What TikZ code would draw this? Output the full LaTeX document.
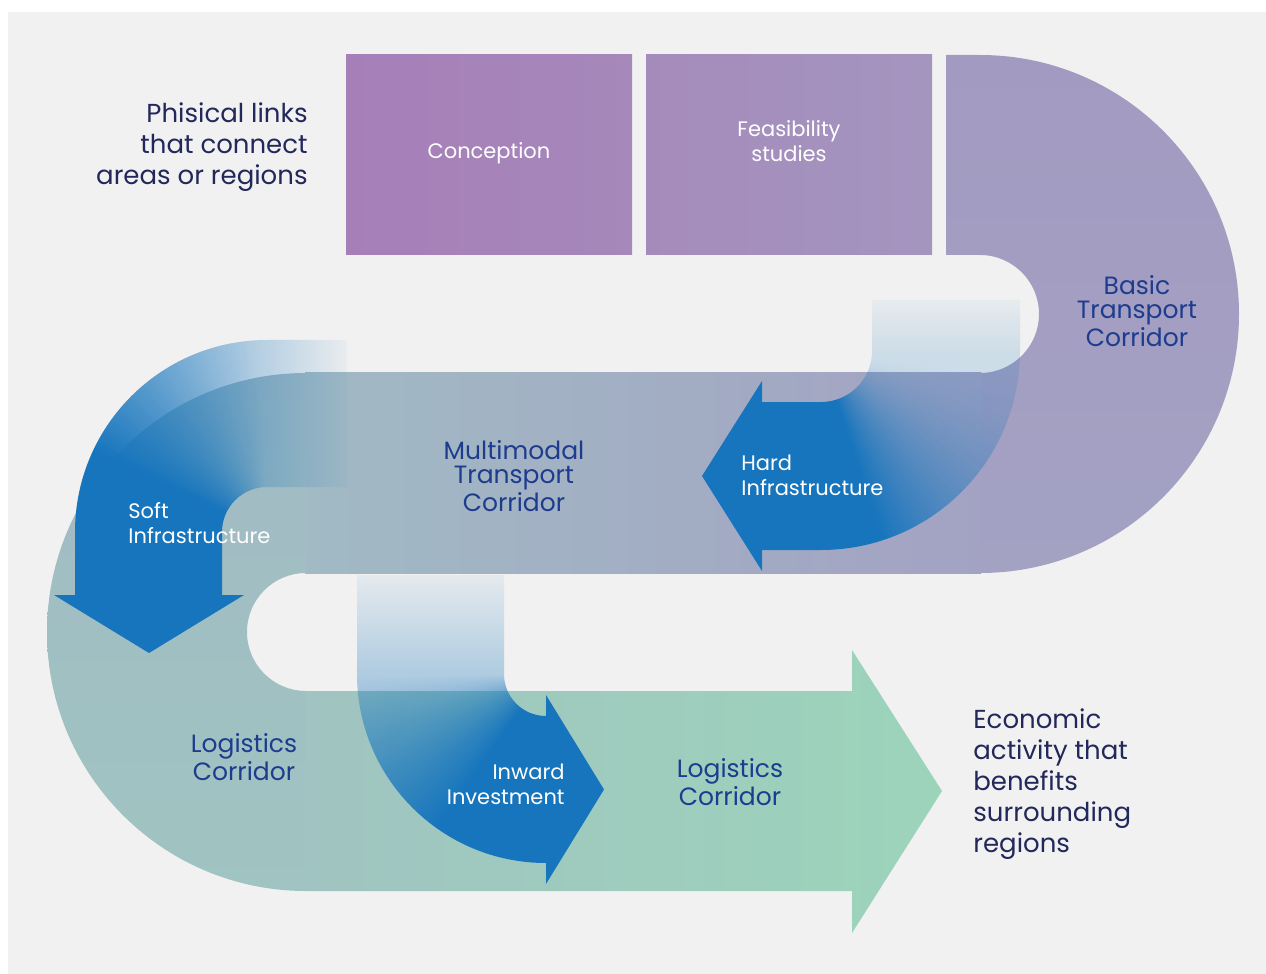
\documentclass[tikz,border=0pt]{standalone}
\usepackage{fontspec}
\setmainfont{Poppins}
\usetikzlibrary{positioning, fadings}

\definecolor{paper}{HTML}{F1F1F1}
\definecolor{flowblue}{HTML}{1675BD}
\definecolor{textnavy}{HTML}{22285A}
\definecolor{labelblue}{HTML}{1D3C8E}
\definecolor{stageA}{HTML}{A67FB9}
\definecolor{stageB}{HTML}{A688BA}
\definecolor{stageC}{HTML}{A58BBB}
\definecolor{stageD}{HTML}{A495BF}
\definecolor{basicT}{HTML}{A39AC1}
\definecolor{basicB}{HTML}{A3A2C3}
\definecolor{multiL}{HTML}{A1BAC4}
\definecolor{multiR}{HTML}{A3A2C3}
\definecolor{logiL}{HTML}{A0C4C1}
\definecolor{logiR}{HTML}{9CD4BA}

% one unit = one pixel of the layout, y grows downwards
\tikzset{px/.style={x=0.5pt, y=-0.5pt}}

% opacity masks for the blue arrows: faint tail, solid after the bend
\begin{tikzfadingfrompicture}[name=hardfade, px]
  \path (-1400,-1100) rectangle (1400,1100);
  \shade[top color=transparent!98, bottom color=transparent!84] (860,290) rectangle (1030,351);
  \foreach \i in {0,...,60} {
    \pgfmathsetmacro{\ang}{72*\i/60}
    \pgfmathsetmacro{\tp}{84*(1-(\i/60)^2)}
    \fill[transparent!\tp] (821,351) -- ++(\ang:260) arc[start angle=\ang, end angle=180, radius=260] -- cycle;
  }
\end{tikzfadingfrompicture}

\begin{tikzfadingfrompicture}[name=softfade, px]
  \path (-1400,-1100) rectangle (1400,1100);
  \shade[left color=transparent!75, right color=transparent!98] (267,320) rectangle (352,500);
  \foreach \i in {0,...,60} {
    \pgfmathsetmacro{\ang}{270-65*\i/60}
    \pgfmathsetmacro{\tp}{75*(1-\i/60)}
    \fill[transparent!\tp] (267,532) -- ++(\ang:260) arc[start angle=\ang, end angle=90, radius=260] -- cycle;
  }
\end{tikzfadingfrompicture}

\begin{tikzfadingfrompicture}[name=inwardfade, px]
  \path (-1400,-1100) rectangle (1400,1100);
  \shade[top color=transparent!97, bottom color=transparent!70] (350,565) rectangle (510,674);
  \foreach \i in {0,...,60} {
    \pgfmathsetmacro{\ang}{180-55*\i/60}
    \pgfmathsetmacro{\tp}{70*(1-\i/60)}
    \fill[transparent!\tp] (546,674) -- ++(\ang:260) arc[start angle=\ang, end angle=0, radius=260] -- cycle;
  }
\end{tikzfadingfrompicture}

\begin{document}
\begin{tikzpicture}[px,
    stagebox/.style={rectangle, minimum width=143pt, minimum height=100pt, inner sep=0pt, outer sep=0pt},
    bandtext/.style={text=labelblue, font=\fontsize{12.5}{12}\selectfont, align=center, inner sep=0pt},
    flowtext/.style={text=white, font=\fontsize{10.5}{12.5}\selectfont, inner sep=0pt},
    sidetext/.style={text=textnavy, font=\fontsize{13}{15.5}\selectfont, inner sep=0pt},
    flow/.style={fill=flowblue, fit fading=false}
]
    \useasboundingbox (0,0) rectangle (1266,974);
    \fill[paper] (8,12) rectangle (1266,974);

    % first stages
    \node[stagebox, left color=stageA, right color=stageB] (conception) at (489,155) {};
    \node[stagebox, left color=stageC, right color=stageD, right=7pt of conception] (feasibility) {};

    % the corridor ribbon
    \shade[top color=basicT, bottom color=basicB] (946,55) -- (980,55) arc[start angle=-90, end angle=90, radius=259]
        -- (980,373) arc[start angle=90, end angle=-90, radius=59] -- (946,255) -- cycle;
    \shade[left color=multiL, right color=multiR] (305,373) rectangle (981,573);
    \shade[top color=multiL, bottom color=logiL] (306,373) arc[start angle=270, end angle=90, radius=259]
        -- (306,691) arc[start angle=90, end angle=270, radius=59] -- cycle;
    \shade[left color=logiL, right color=logiR] (305,691) -- (852,691) -- (852,650) -- (942,791)
        -- (852,933) -- (852,891) -- (305,891) -- cycle;

    % blue arrows
    \fill[flow, path fading=hardfade] (872,300) -- (1020,300) -- (1020,351)
        arc[start angle=0, end angle=90, radius=199] -- (762,550) -- (762,571) -- (702,476)
        -- (762,381) -- (762,402) -- (821,402) arc[start angle=90, end angle=0, radius=51] -- cycle;
    \fill[flow, path fading=softfade] (347,340) -- (267,340) arc[start angle=270, end angle=180, radius=192]
        -- (75,595) -- (54,595) -- (149,653) -- (244,595) -- (222,595) -- (222,532)
        arc[start angle=180, end angle=270, radius=45] -- (347,487) -- cycle;
    \fill[flow, path fading=inwardfade] (357,575) -- (357,674) arc[start angle=180, end angle=90, radius=189]
        -- (546,863) -- (546,884) -- (604,789.5) -- (546,695) -- (546,716)
        arc[start angle=90, end angle=180, radius=42] -- (504,575) -- cycle;

    % labels
    \node[flowtext] (conceptiontext) at ([yshift=1pt]conception.center) {Conception};
    \node[flowtext, align=center] (feasibilitytext) at ([yshift=7pt]feasibility.center) {Feasibility\\studies};
    \node[bandtext] (basic) at (1137,311) {Basic\\Transport\\Corridor};
    \node[bandtext] (multimodal) at (514,476) {Multimodal\\Transport\\Corridor};
    \node[bandtext] (logistics) at (244,757) {Logistics\\Corridor};
    \node[bandtext] (logisticsend) at (730,782) {Logistics\\Corridor};
    \node[flowtext, anchor=west, align=left] (hard) at (741,475) {Hard\\Infrastructure};
    \node[flowtext, anchor=west, align=left] (soft) at (128,523) {Soft\\Infrastructure};
    \node[flowtext, anchor=east, align=right] (inward) at (565,784) {Inward\\Investment};
    \node[sidetext, anchor=east, align=right] (physical) at (308,147) {Phisical links\\that connect\\areas or regions};
    \node[sidetext, anchor=west, align=left] (economic) at (973,784) {Economic\\activity that\\benefits\\surrounding\\regions};
\end{tikzpicture}
\end{document}
